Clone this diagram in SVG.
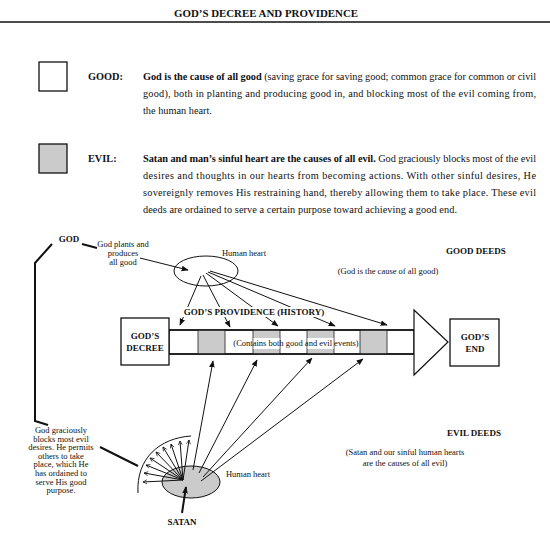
<svg xmlns="http://www.w3.org/2000/svg" width="550" height="537" viewBox="0 0 550 537">
<defs>
<style>
text{font-family:"Liberation Serif","Times New Roman",serif;fill:#111}
.b{font-weight:bold}
.body{font-size:10.3px}
.sm{font-size:8.5px}
.lbl{font-size:9px;font-weight:bold}
.ln{stroke:#111;fill:none;stroke-width:1}
.thk{stroke:#111;fill:none;stroke-width:2}
.box{fill:#fff;stroke:#111;stroke-width:1.3}
.gray{fill:#cbcbcb}
</style>
<marker id="af" viewBox="0 0 10 10" refX="9" refY="5" markerWidth="7" markerHeight="7" orient="auto" markerUnits="userSpaceOnUse">
<path d="M0,1 L10,5 L0,9 Z" fill="#111"/>
</marker>
<marker id="ao" viewBox="0 0 10 10" refX="9" refY="5" markerWidth="5" markerHeight="5" orient="auto" markerUnits="userSpaceOnUse">
<path d="M1,1 L9,5 L1,9" fill="none" stroke="#111" stroke-width="1.4"/>
</marker>
</defs>

<g id="title">
<text x="266" y="17" text-anchor="middle" class="b" font-size="11" textLength="184" lengthAdjust="spacingAndGlyphs">GOD’S DECREE AND PROVIDENCE</text>
<line x1="0" y1="22" x2="550" y2="22" stroke="#111" stroke-width="1.5"/>
</g>

<g id="legend-good">
<rect x="39" y="62" width="28" height="29" class="box" stroke-width="1.6"/>
<text x="88" y="80" class="body b">GOOD:</text>
<text x="143" y="80" class="body" textLength="393" lengthAdjust="spacing"><tspan class="b">God is the cause of all good</tspan> (saving grace for saving good; common grace for common or civil</text>
<text x="143" y="97" class="body" textLength="393" lengthAdjust="spacing">good), both in planting and producing good in, and blocking most of the evil coming from,</text>
<text x="143" y="114" class="body">the human heart.</text>
</g>

<g id="legend-evil">
<rect x="39" y="144" width="28" height="29" class="box gray" stroke-width="1.6"/>
<text x="88" y="162" class="body b">EVIL:</text>
<text x="143" y="162" class="body" textLength="393" lengthAdjust="spacing"><tspan class="b">Satan and man’s sinful heart are the causes of all evil.</tspan> God graciously blocks most of the evil</text>
<text x="143" y="179" class="body" textLength="393" lengthAdjust="spacing">desires and thoughts in our hearts from becoming actions. With other sinful desires, He</text>
<text x="143" y="196" class="body" textLength="393" lengthAdjust="spacing">sovereignly removes His restraining hand, thereby allowing them to take place. These evil</text>
<text x="143" y="213" class="body" textLength="314" lengthAdjust="spacing">deeds are ordained to serve a certain purpose toward achieving a good end.</text>
</g>

<g id="god">
<text x="69" y="242" text-anchor="middle" class="lbl">GOD</text>
<text x="123" y="247" text-anchor="middle" class="sm">God plants and</text>
<text x="123" y="256" text-anchor="middle" class="sm">produces</text>
<text x="123" y="265" text-anchor="middle" class="sm">all good</text>
</g>

<g id="heart-top">
<ellipse cx="206" cy="271" rx="32" ry="15" fill="#fff" stroke="#111" stroke-width="1"/>
<text x="244" y="256" text-anchor="middle" class="sm" font-size="9">Human heart</text>
</g>

<g id="good-deeds">
<text x="476" y="254" text-anchor="middle" class="lbl">GOOD DEEDS</text>
<text x="388" y="274" text-anchor="middle" class="sm">(God is the cause of all good)</text>
</g>

<g id="providence">
<rect x="169" y="330" width="245" height="24" fill="#fff" stroke="#111" stroke-width="1.3"/>
<rect x="198" y="330" width="27" height="24" class="gray"/>
<rect x="253" y="330" width="27" height="24" class="gray"/>
<rect x="307" y="330" width="27" height="24" class="gray"/>
<rect x="360" y="330" width="27" height="24" class="gray"/>
<g stroke="#333" stroke-width="0.9">
<line x1="198" y1="330" x2="198" y2="354"/>
<line x1="225" y1="330" x2="225" y2="354"/>
<line x1="253" y1="330" x2="253" y2="354"/>
<line x1="280" y1="330" x2="280" y2="354"/>
<line x1="307" y1="330" x2="307" y2="354"/>
<line x1="334" y1="330" x2="334" y2="354"/>
<line x1="360" y1="330" x2="360" y2="354"/>
<line x1="387" y1="330" x2="387" y2="354"/>
</g>
<line x1="169" y1="330" x2="414" y2="330" stroke="#111" stroke-width="1.3"/>
<line x1="169" y1="354" x2="414" y2="354" stroke="#111" stroke-width="1.3"/>
<rect x="253.5" y="338" width="26" height="11" fill="#fff"/>
<rect x="307.5" y="338" width="26" height="11" fill="#fff"/>
<text x="296" y="346" text-anchor="middle" class="sm" font-size="9.2">(Contains both good and evil events)</text>
<polygon points="414,310 448,342 414,375" fill="#fff" stroke="#111" stroke-width="1.2"/>
</g>

<g id="gods-decree">
<rect x="121" y="318" width="48" height="47" class="box"/>
<text x="145" y="339" text-anchor="middle" class="lbl">GOD’S</text>
<text x="145" y="351" text-anchor="middle" class="lbl">DECREE</text>
</g>

<g id="gods-end">
<rect x="450" y="319" width="49" height="47" class="box"/>
<text x="475" y="340" text-anchor="middle" class="lbl">GOD’S</text>
<text x="475" y="352" text-anchor="middle" class="lbl">END</text>
</g>

<g id="heart-bottom">
<ellipse cx="191" cy="482" rx="29" ry="16" class="gray" stroke="#111" stroke-width="1"/>
<text x="248" y="477" text-anchor="middle" class="sm" font-size="9">Human heart</text>
<path d="M191,436 C160,438 136,458 138,493" class="ln" stroke-width="1.3"/>
</g>

<g id="evil-deeds">
<text x="474" y="436" text-anchor="middle" class="lbl">EVIL DEEDS</text>
<text x="405" y="455" text-anchor="middle" class="sm">(Satan and our sinful human hearts</text>
<text x="405" y="466" text-anchor="middle" class="sm">are the causes of all evil)</text>
</g>

<g id="blocks-note">
<text x="61" y="433" text-anchor="middle" class="sm"><tspan x="61">God graciously</tspan><tspan x="61" dy="8.6">blocks most evil</tspan><tspan x="61" dy="8.6">desires. He permits</tspan><tspan x="61" dy="8.6">others to take</tspan><tspan x="61" dy="8.6">place, which He</tspan><tspan x="61" dy="8.6">has ordained to</tspan><tspan x="61" dy="8.6">serve His good</tspan><tspan x="61" dy="8.6">purpose.</tspan></text>
</g>

<g id="satan">
<text x="182" y="525" text-anchor="middle" class="lbl">SATAN</text>
</g>

<g id="connectors">
<polyline points="52,244 35,263 35,421 48,425" class="thk"/>
<line x1="82" y1="244" x2="97" y2="248" class="thk" stroke-width="1.6"/>
<line x1="140" y1="258" x2="188" y2="270" class="ln" stroke-width="1.8" marker-end="url(#af)"/>
<line x1="201" y1="276" x2="180" y2="325" class="ln" marker-end="url(#af)"/>
<line x1="203" y1="275" x2="230" y2="327" class="ln" marker-end="url(#af)"/>
<line x1="206" y1="273" x2="278" y2="326" class="ln" marker-end="url(#af)"/>
<line x1="208" y1="272" x2="335" y2="326" class="ln" marker-end="url(#af)"/>
<line x1="210" y1="271" x2="387" y2="325" class="ln" marker-end="url(#af)"/>
<line x1="193" y1="470" x2="213" y2="361" class="ln" marker-end="url(#af)"/>
<line x1="199" y1="473" x2="257" y2="360" class="ln" marker-end="url(#af)"/>
<line x1="203" y1="477" x2="312" y2="358" class="ln" marker-end="url(#af)"/>
<line x1="201" y1="481" x2="363" y2="359" class="ln" marker-end="url(#af)"/>
<g class="ln" stroke-width="0.9">
<line x1="183" y1="480" x2="189" y2="440" marker-end="url(#ao)"/>
<line x1="183" y1="480" x2="180" y2="441" marker-end="url(#ao)"/>
<line x1="183" y1="480" x2="171" y2="444" marker-end="url(#ao)"/>
<line x1="183" y1="480" x2="163" y2="447" marker-end="url(#ao)"/>
<line x1="183" y1="480" x2="156" y2="452" marker-end="url(#ao)"/>
<line x1="183" y1="480" x2="150" y2="458" marker-end="url(#ao)"/>
<line x1="183" y1="480" x2="146" y2="465" marker-end="url(#ao)"/>
<line x1="183" y1="480" x2="144" y2="473" marker-end="url(#ao)"/>
<line x1="183" y1="480" x2="143" y2="482" marker-end="url(#ao)"/>
</g>
<line x1="100" y1="447" x2="138" y2="466" class="thk" stroke-width="1.6"/>
<line x1="182" y1="513" x2="186" y2="487" class="thk" marker-end="url(#af)"/>
</g>

<g id="providence-label">
<rect x="183" y="307" width="142" height="10" fill="#fff"/>
<text x="254" y="315" text-anchor="middle" class="lbl">GOD’S PROVIDENCE (HISTORY)</text>
</g>
</svg>
